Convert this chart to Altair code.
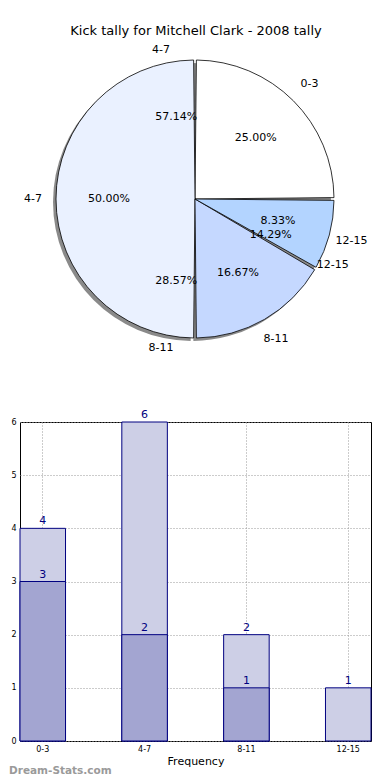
import math
import altair as alt
import pandas as pd

# ---------------- data ----------------
title_text = "Kick tally for Mitchell Clark - 2008 tally"
pie_cats = ["0-3", "4-7", "8-11", "12-15"]
pie_vals = [3, 6, 2, 1]
pie2_cats = ["4-7", "8-11", "12-15"]
pie2_vals = [4, 2, 1]
bar_cats = ["0-3", "4-7", "8-11", "12-15"]
bar_total = [4, 6, 2, 1]
bar_part = [3, 2, 1, 0]
y_ticks = [0, 1, 2, 3, 4, 5, 6]
watermark = "Dream-Stats.com"
x_title = "Frequency"

# ---------------- style ----------------
FONT = "DejaVu Sans"
pie_colors = ["#ffffff", "#eaf1ff", "#c5d8ff", "#b3d4ff"]
NAVY = "#000080"
LIGHT = "#cdcfe6"
DARK = "#a3a5d1"
CX, CY, R = 175, 190, 139

pie1 = pd.DataFrame({"cat": pie_cats, "v": pie_vals, "idx": list(range(len(pie_cats)))})
pie2 = pd.DataFrame({"cat": pie2_cats, "v": pie2_vals, "idx": list(range(len(pie2_cats)))})
bars = pd.DataFrame({"cat": bar_cats, "total": bar_total, "part": bar_part})

theta_scale = alt.Scale(domain=[0, 1], range=[math.pi / 2, -1.5 * math.pi])


def theta():
    return alt.Theta("v:Q", stack="normalize", scale=theta_scale)


def pie_base(df):
    return alt.Chart(df).encode(theta=theta(), order=alt.Order("idx:Q"))


shadow = pie_base(pie1).mark_arc(outerRadius=R, padAngle=0.02, color="#8a8a8a").encode(
    x=alt.value(CX - 3), y=alt.value(CY + 3)
)
arcs = pie_base(pie1).mark_arc(outerRadius=R, padAngle=0.02, stroke="black", strokeWidth=0.8).encode(
    color=alt.Color("cat:N", scale=alt.Scale(domain=pie_cats, range=pie_colors), legend=None),
    x=alt.value(CX), y=alt.value(CY),
)
lab1 = pie_base(pie1).mark_text(radius=162, font=FONT, fontSize=11, color="black").encode(
    text="cat:N", x=alt.value(CX), y=alt.value(CY)
)
pct1 = (
    pie_base(pie1)
    .transform_joinaggregate(total="sum(v)")
    .transform_calculate(pct="datum.v / datum.total")
    .mark_text(radius=86, font=FONT, fontSize=11, color="black")
    .encode(text=alt.Text("pct:Q", format=".2%"), x=alt.value(CX), y=alt.value(CY))
)
lab2 = pie_base(pie2).mark_text(radius=153, font=FONT, fontSize=11, color="black").encode(
    text="cat:N", x=alt.value(CX), y=alt.value(CY)
)
pct2 = (
    pie_base(pie2)
    .transform_joinaggregate(total="sum(v)")
    .transform_calculate(pct="datum.v / datum.total")
    .mark_text(radius=84, font=FONT, fontSize=11, color="black")
    .encode(text=alt.Text("pct:Q", format=".2%"), x=alt.value(CX), y=alt.value(CY))
)
title = alt.Chart(pd.DataFrame({"t": [title_text]})).mark_text(
    font=FONT, fontSize=13, color="black"
).encode(text="t:N", x=alt.value(176), y=alt.value(22))

pie_panel = alt.layer(shadow, arcs, lab1, pct1, lab2, pct2, title).properties(
    width=351, height=403, view=alt.ViewBackground(stroke="transparent")
)

# ---------------- bars ----------------
xenc = alt.X(
    "cat:N", sort=bar_cats,
    scale=alt.Scale(paddingInner=0.553, paddingOuter=0),
    axis=alt.Axis(
        title=x_title, labelAngle=0, labelFontSize=8, labelColor="black", tickSize=0,
        labelPadding=4, titleFontSize=11, titleFontWeight="normal", titlePadding=2,
        grid=True, gridColor="#999999", gridDash=[1, 2], bandPosition=0.5, domain=False,
    ),
)
yaxis = alt.Axis(
    values=y_ticks, format="d", labelFontSize=8, labelColor="black", tickSize=0, labelPadding=4,
    grid=True, gridColor="#999999", gridDash=[1, 2], domain=False, title=None,
)
yscale = alt.Scale(domain=[0, 6], nice=False)

light = alt.Chart(bars).mark_bar(color=LIGHT, stroke=NAVY, strokeWidth=1).encode(
    x=xenc, y=alt.Y("total:Q", scale=yscale, axis=yaxis)
)
light_txt = alt.Chart(bars).mark_text(baseline="bottom", dy=-2, color=NAVY, font=FONT, fontSize=11).encode(
    x=alt.X("cat:N", sort=bar_cats), y=alt.Y("total:Q"), text="total:Q"
)
dark = alt.Chart(bars).transform_filter("datum.part > 0").mark_bar(
    color=DARK, stroke=NAVY, strokeWidth=1
).encode(x=alt.X("cat:N", sort=bar_cats), y=alt.Y("part:Q"))
dark_txt = alt.Chart(bars).transform_filter("datum.part > 0").mark_text(
    baseline="bottom", dy=-2, color=NAVY, font=FONT, fontSize=11
).encode(x=alt.X("cat:N", sort=bar_cats), y=alt.Y("part:Q"), text="part:Q")
wm = alt.Chart(pd.DataFrame({"t": [watermark]})).mark_text(
    align="left", font=FONT, fontSize=10.5, fontWeight="bold", color="#9a9a9a"
).encode(text="t:N", x=alt.value(-11), y=alt.value(349))

bar_panel = alt.layer(light, light_txt, dark, dark_txt, wm).properties(
    width=351, height=319, view=alt.ViewBackground(stroke="black", strokeWidth=1)
)

chart = (
    alt.vconcat(pie_panel, bar_panel, spacing=10, bounds="flush")
    .properties(padding=0)
    .configure_axis(labelFont=FONT, titleFont=FONT)
)

chart.save("out.html", embed_options={"renderer": "svg", "actions": False})
